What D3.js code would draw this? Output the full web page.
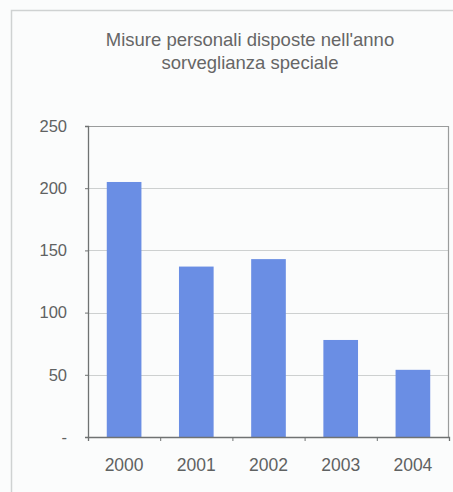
<!DOCTYPE html>
<html>
<head>
<meta charset="utf-8">
<script src="https://cdn.jsdelivr.net/npm/d3@7"></script>
<style>
  body { margin: 0; background: #fbfcfc; }
  svg { display: block; }
</style>
</head>
<body>
<script>
// data
var years = ["2000", "2001", "2002", "2003", "2004"];
var misure = [205, 137, 143, 78, 54];
var yTicks = [0, 50, 100, 150, 200, 250];
var titleLines = ["Misure personali disposte nell'anno", "sorveglianza speciale"];

var svgWidth = 453;
var svgHeight = 492;

var margin = { top: 126, right: 5, bottom: 55, left: 88 };
var chartWidth = 449 - margin.left;
var chartHeight = 437 - margin.top;

var svg = d3.select("body")
    .append("svg")
    .attr("width", svgWidth)
    .attr("height", svgHeight);

// outer frame (only left + top edges show in the crop)
svg.append("path")
    .attr("d", "M11.5,492 L11.5,10.5 L453,10.5")
    .attr("fill", "none")
    .attr("stroke", "#cfd2d2")
    .attr("stroke-width", 1.5);

// title
svg.append("g")
    .selectAll("text")
    .data(titleLines)
    .enter()
    .append("text")
    .attr("x", 250)
    .attr("y", (d, i) => 46 + i * 23)
    .attr("text-anchor", "middle")
    .attr("font-family", "Liberation Sans, Arial, sans-serif")
    .attr("font-size", 18.5)
    .attr("fill", "#666")
    .text(d => d);

var chartGroup = svg.append("g")
    .attr("transform", `translate(${margin.left},${margin.top})`);

var xBandScale = d3.scaleBand()
    .domain(years)
    .range([0, chartWidth])
    .paddingInner(0.52)
    .paddingOuter(0.26);

var yLinearScale = d3.scaleLinear()
    .domain([0, 250])
    .range([chartHeight, 0]);

// gridlines
chartGroup.append("g")
    .selectAll("line")
    .data(yTicks.filter(d => d > 0 && d < 250))
    .enter()
    .append("line")
    .attr("x1", 0)
    .attr("x2", chartWidth)
    .attr("y1", d => Math.round(yLinearScale(d)) + 0.5)
    .attr("y2", d => Math.round(yLinearScale(d)) + 0.5)
    .attr("stroke", "#cdd0d0")
    .attr("stroke-width", 1);

// plot box top + right
chartGroup.append("path")
    .attr("d", `M0,0.5 L${chartWidth - 0.5},0.5 L${chartWidth - 0.5},${chartHeight}`)
    .attr("fill", "none")
    .attr("stroke", "#9a9c9c")
    .attr("stroke-width", 1.2);

// bars
chartGroup.selectAll("rect")
    .data(misure)
    .enter()
    .append("rect")
    .attr("x", (d, i) => xBandScale(years[i]))
    .attr("y", d => yLinearScale(d))
    .attr("width", xBandScale.bandwidth())
    .attr("height", d => chartHeight - yLinearScale(d))
    .attr("fill", "#6a8ee4");

// y axis
var leftAxis = d3.axisLeft(yLinearScale)
    .tickValues(yTicks)
    .tickSize(3)
    .tickPadding(18)
    .tickFormat(d => d === 0 ? "-" : d);

var yAxis = chartGroup.append("g").call(leftAxis);

// x axis, ticks at category boundaries
var xEdge = d3.scaleLinear().domain([0, years.length]).range([0, chartWidth]);
var bottomAxis = d3.axisBottom(xEdge)
    .tickValues(d3.range(years.length + 1))
    .tickSize(4)
    .tickFormat("");

var xAxis = chartGroup.append("g")
    .attr("transform", `translate(0, ${chartHeight})`)
    .call(bottomAxis);

[yAxis, xAxis].forEach(function (ax) {
    ax.select(".domain").attr("stroke", "#6f7272").attr("stroke-width", 1.3);
    ax.selectAll(".tick line").attr("stroke", "#6f7272");
    ax.selectAll("text")
        .attr("font-family", "Liberation Sans, Arial, sans-serif")
        .attr("font-size", 16.5)
        .attr("fill", "#5f6262");
});

// year labels
chartGroup.append("g")
    .selectAll("text")
    .data(years)
    .enter()
    .append("text")
    .attr("x", d => xBandScale(d) + xBandScale.bandwidth() / 2)
    .attr("y", chartHeight + 34)
    .attr("text-anchor", "middle")
    .attr("font-family", "Liberation Sans, Arial, sans-serif")
    .attr("font-size", 17.5)
    .attr("fill", "#5f6262")
    .text(d => d);
</script>
</body>
</html>
